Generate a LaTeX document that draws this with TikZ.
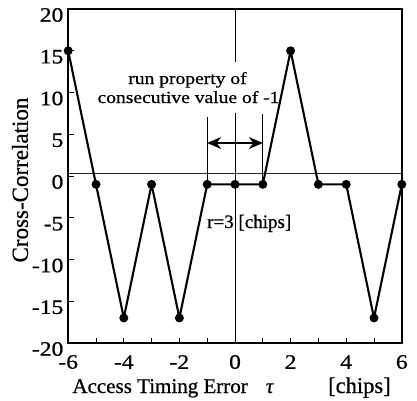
\documentclass[tikz,border=0pt]{standalone}
\usepackage{fontspec}
\setmainfont{Liberation Serif}[FakeBold=0.7]
\usetikzlibrary{arrows.meta}
\begin{document}
\begin{tikzpicture}[x=1pt,y=1pt,
  dot/.style={circle,fill=black,inner sep=0pt,minimum size=9pt},
  thinline/.style={line width=0.9pt},
  frameline/.style={line width=2pt},
  dataline/.style={line width=2.1pt},
  ticklab/.style={font=\fontsize{20.5}{20.5}\selectfont, xscale=1.15, inner sep=0pt},
  annot/.style={font=\fontsize{17}{17}\selectfont, xscale=1.15, inner sep=0pt},
  axlab/.style={font=\fontsize{21}{21}\selectfont, inner sep=0pt},
  ]
\useasboundingbox (0,0) rectangle (417,400);
\begin{scope}[shift={(235,224)}, x=27.8pt, y=8.35pt]
  % reference lines
  \draw[thinline, black!85] (-6,0.35) -- (6,0.35);
  \coordinate (z0top) at (0,20);
  \coordinate (z0a) at (0,13.7);
  \coordinate (z0b) at (0,7.6);
  \coordinate (z0bot) at (0,-20);
  \draw[thinline] (z0top) -- (z0a);
  \draw[thinline] (z0b) -- (z0bot);
  % ticks
  \foreach \i in {-6,...,6} \draw[thinline] (\i,-20) -- ++(0,0.6);
  \foreach \j in {-20,-15,...,20} \draw[thinline] (-6,\j) -- ++(0.2,0);
  % frame
  \draw[frameline] (-6,-20) rectangle (6,20);
  % tick labels
  \foreach \i in {-6,-4,...,6} \node[ticklab] (xl\i) at (\i,-20) [yshift=-19pt] {\i};
  \foreach \j in {-20,-15,...,20} \node[ticklab, anchor=east] (yl\j) at (-6,\j) [xshift=-4pt, yshift=-6pt] {\j};
  % data
  \foreach \k/\x/\y in {0/-6/15,1/-5/-1,2/-4/-17,3/-3/-1,4/-2/-17,5/-1/-1,6/0/-1,7/1/-1,8/2/15,9/3/-1,10/4/-1,11/5/-17,12/6/-1}
    \node[dot] (p\k) at (\x,\y) {};
  \draw[dataline, line join=round] (p0.center) -- (p1.center) -- (p2.center) -- (p3.center) -- (p4.center) -- (p5.center) -- (p6.center) -- (p7.center) -- (p8.center) -- (p9.center) -- (p10.center) -- (p11.center) -- (p12.center);
  % run markers
  \coordinate (m1top) at (-1,7.1);
  \coordinate (p1top) at (1,7.4);
  \draw[thinline] (m1top) -- (p5.center);
  \draw[thinline] (p1top) -- (p7.center);
  \coordinate (aL) at (-1,3.95);
  \coordinate (aR) at (1,3.95);
  \draw[line width=1.4pt, {Stealth[length=14pt,width=12pt]}-{Stealth[length=14pt,width=12pt]}] (aL) -- (aR);
\end{scope}
% annotations
\node[annot, anchor=base] (t1) at (187.5,316) {run property of};
\node[annot, anchor=base] (t2) at (188.5,297) {consecutive value of -1};
\node[font=\fontsize{19}{19}\selectfont, inner sep=0pt, anchor=base west] (t3) at (207,172) {r=3 [chips]};
% axis labels
\node[font=\fontsize{23}{23}\selectfont, inner sep=0pt, rotate=90] (ylab) at (20,220) {Cross-Correlation};
\node[axlab, anchor=base east] (xlab) at (248,7) {Access Timing Error};
\node[axlab, anchor=base] (tau) at (270,7) {\textit{τ}};
\node[axlab, font=\fontsize{22.5}{22.5}\selectfont, anchor=base west] (chips) at (328,7) {[chips]};
\end{tikzpicture}
\end{document}
